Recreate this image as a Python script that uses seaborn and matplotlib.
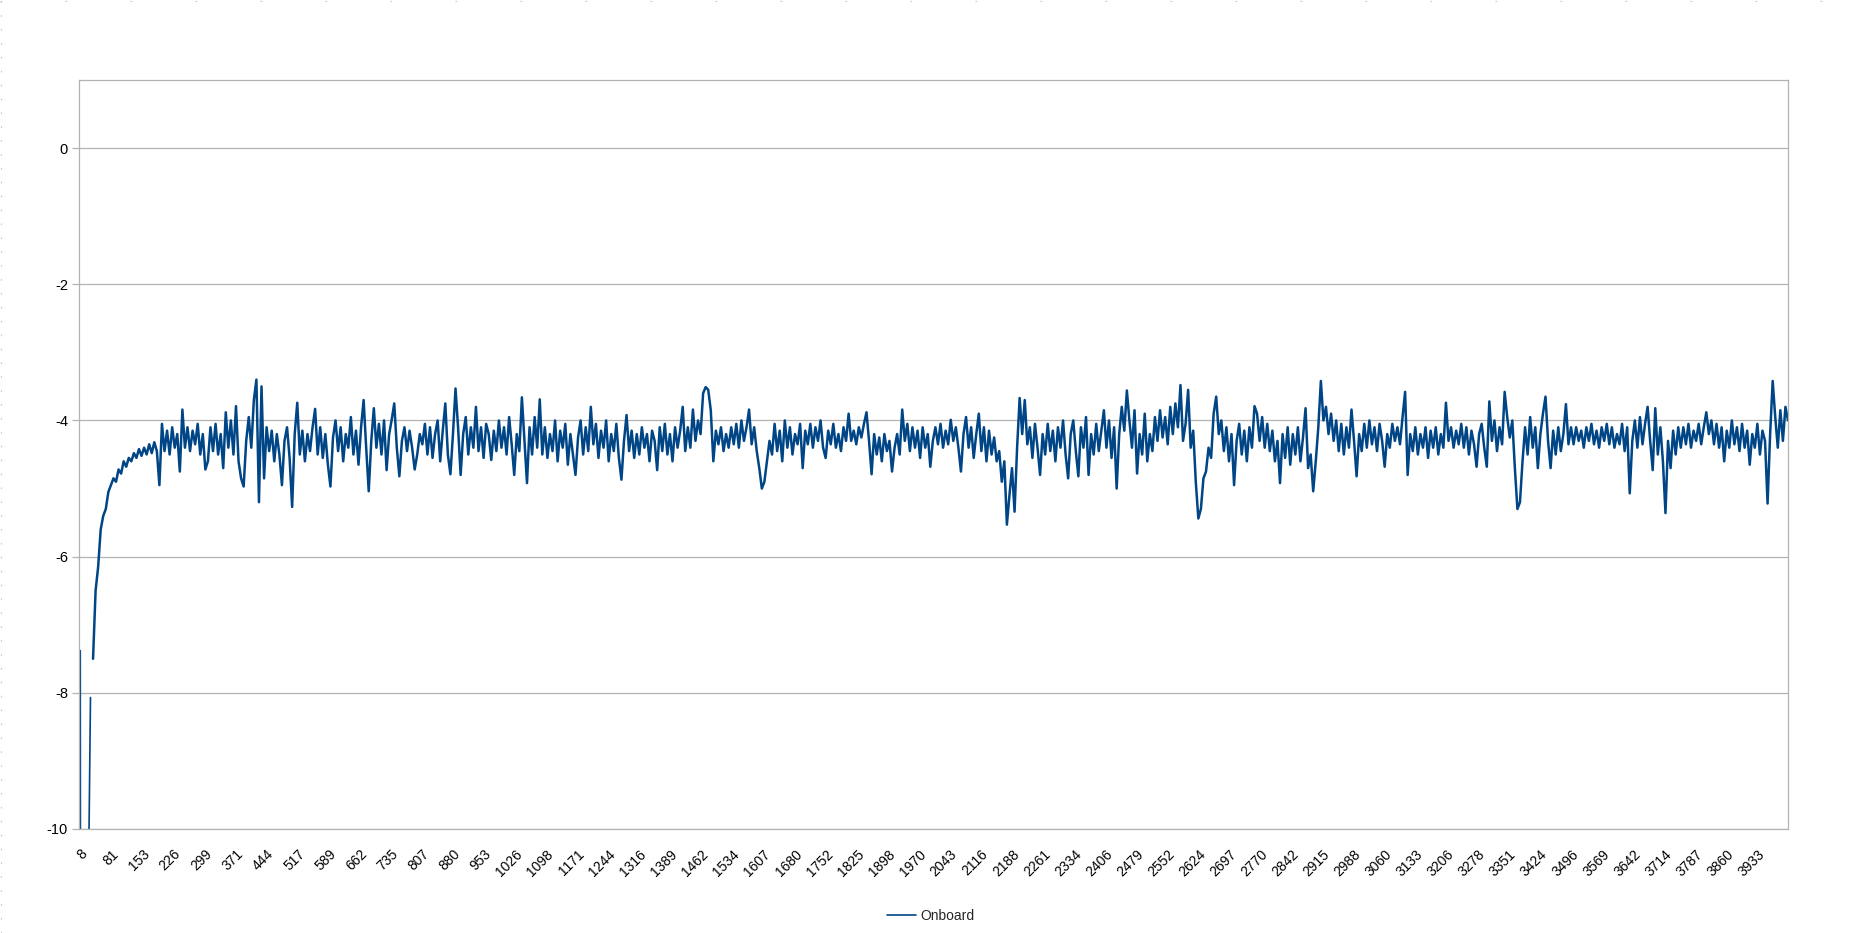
import numpy as np
import pandas as pd
import matplotlib
matplotlib.use("Agg")
import matplotlib.pyplot as plt
import matplotlib.transforms as mtransforms
from matplotlib.lines import Line2D
import seaborn as sns

# ---------------- data ----------------
series_name = "Onboard"
step = 6  # category units between stored samples

# first segment (before the small gap near the start)
start_vals = [-7.38, -60, -60, -11.5, -8.07]

# main segment
main_vals = [
    -7.5, -6.5, -6.15, -5.6, -5.4,
    -5.3, -5.05, -4.95, -4.85, -4.9, -4.72, -4.78, -4.6, -4.68, -4.55,
    -4.6, -4.48, -4.55, -4.42, -4.52, -4.4, -4.5, -4.35, -4.48, -4.32,
    -4.45, -4.95, -4.05, -4.45, -4.15, -4.5, -4.1, -4.4, -4.2, -4.75,
    -3.84, -4.4, -4.1, -4.45, -4.15, -4.35, -4.05, -4.5, -4.2, -4.72,
    -4.6, -4.1, -4.45, -4.05, -4.5, -4.2, -4.7, -3.88, -4.4, -4.0,
    -4.5, -3.79, -4.6, -4.85, -4.97, -4.3, -3.95, -4.4, -3.7, -3.4,
    -5.2, -3.5, -4.85, -4.1, -4.45, -4.15, -4.6, -4.2, -4.5, -4.95,
    -4.3, -4.1, -4.55, -5.27, -4.2, -3.74, -4.5, -4.15, -4.6, -4.2,
    -4.45, -4.1, -3.83, -4.5, -4.1, -4.55, -4.2, -4.65, -4.97, -4.25,
    -4.0, -4.45, -4.1, -4.6, -4.2, -4.4, -3.95, -4.5, -4.15, -4.65,
    -4.1, -3.7, -4.4, -5.04, -4.3, -3.82, -4.4, -4.05, -4.5, -4.0,
    -4.73, -4.2, -3.99, -3.75, -4.4, -4.82, -4.3, -4.1, -4.45, -4.15,
    -4.4, -4.72, -4.5, -4.2, -4.35, -4.05, -4.5, -4.1, -4.55, -4.2,
    -4.0, -4.6, -4.15, -3.75, -4.5, -4.79, -4.2, -3.53, -4.1, -4.8,
    -4.2, -3.95, -4.5, -4.1, -4.4, -3.8, -4.45, -4.1, -4.55, -4.05,
    -4.2, -4.58, -4.15, -4.45, -4.0, -4.4, -4.1, -4.5, -3.95, -4.35,
    -4.8, -4.2, -4.45, -3.66, -4.3, -4.92, -4.1, -4.5, -3.95, -4.4,
    -3.69, -4.5, -4.1, -4.55, -4.2, -4.45, -4.0, -4.6, -4.15, -4.4,
    -4.05, -4.65, -4.2, -4.5, -4.8, -4.25, -4.0, -4.5, -4.1, -4.45,
    -3.8, -4.35, -4.05, -4.55, -4.15, -4.4, -4.0, -4.6, -4.2, -4.45,
    -4.05, -4.55, -4.87, -4.3, -3.92, -4.45, -4.15, -4.55, -4.2, -4.5,
    -4.1, -4.4, -4.2, -4.6, -4.15, -4.3, -4.73, -4.1, -4.45, -4.05,
    -4.5, -4.2, -4.6, -4.1, -4.4, -4.15, -3.8, -4.45, -4.1, -4.4,
    -3.84, -4.3, -4.0, -4.2, -3.6, -3.51, -3.55, -3.85, -4.6, -4.15,
    -4.35, -4.1, -4.45, -4.2, -4.4, -4.1, -4.35, -4.05, -4.4, -4.0,
    -4.3, -4.1, -3.84, -4.35, -4.1, -4.45, -4.7, -5.0, -4.9, -4.6,
    -4.3, -4.5, -4.05, -4.45, -4.15, -4.6, -4.0, -4.4, -4.1, -4.5,
    -4.2, -4.35, -4.05, -4.7, -4.15, -4.35, -4.05, -4.4, -4.1, -4.3,
    -4.0, -4.4, -4.55, -4.15, -4.35, -4.05, -4.4, -4.2, -4.45, -4.1,
    -4.3, -3.9, -4.3, -4.15, -4.35, -4.1, -4.25, -4.05, -3.88, -4.3,
    -4.79, -4.2, -4.5, -4.25, -4.6, -4.2, -4.45, -4.3, -4.75, -4.4,
    -4.2, -4.5, -3.84, -4.3, -4.05, -4.45, -4.1, -4.4, -4.15, -4.55,
    -4.1, -4.4, -4.2, -4.68, -4.3, -4.1, -4.35, -4.05, -4.4, -4.15,
    -4.35, -3.99, -4.3, -4.1, -4.4, -4.75, -4.2, -3.95, -4.4, -4.1,
    -4.55, -4.2, -3.9, -4.45, -4.1, -4.6, -4.15, -4.5, -4.25, -4.6,
    -4.45, -4.9, -4.6, -5.53, -5.1, -4.7, -5.34, -4.4, -3.67, -4.2,
    -3.7, -4.35, -4.1, -4.55, -4.05, -4.4, -4.8, -4.2, -4.5, -4.05,
    -4.45, -4.15, -4.6, -4.1, -4.4, -4.0, -4.5, -4.85, -4.2, -4.0,
    -4.45, -4.82, -4.1, -4.4, -3.95, -4.8, -4.2, -4.5, -4.05, -4.45,
    -4.15, -3.85, -4.4, -4.0, -4.55, -4.1, -5.0, -4.2, -3.8, -4.15,
    -3.56, -4.0, -4.4, -3.85, -4.78, -4.2, -4.5, -3.9, -4.6, -4.2,
    -4.45, -3.95, -4.3, -3.85, -4.25, -3.95, -4.35, -3.8, -4.2, -3.75,
    -4.1, -3.48, -4.3, -4.05, -3.55, -4.4, -4.15, -4.9, -5.44, -5.3,
    -4.85, -4.75, -4.4, -4.55, -3.9, -3.65, -4.2, -4.0, -4.45, -4.1,
    -4.6, -4.2, -4.95, -4.3, -4.05, -4.5, -4.15, -4.6, -4.1, -4.4,
    -3.79, -3.9, -4.3, -3.95, -4.4, -4.05, -4.45, -4.15, -4.6, -4.3,
    -4.92, -4.2, -4.55, -4.1, -4.65, -4.2, -4.5, -4.1, -4.6, -4.25,
    -3.82, -4.7, -4.5, -5.04, -4.6, -4.1, -3.42, -4.0, -3.8, -4.2,
    -3.9, -4.3, -4.0, -4.45, -4.05, -4.5, -4.1, -4.4, -3.84, -4.3,
    -4.82, -4.2, -4.45, -4.05, -4.4, -4.0, -4.35, -4.1, -4.45, -4.05,
    -4.3, -4.68, -4.2, -4.4, -4.05, -4.3, -4.1, -4.35, -3.95, -3.58,
    -4.8, -4.2, -4.45, -4.1, -4.5, -4.2, -4.4, -4.1, -4.55, -4.15,
    -4.4, -4.1, -4.5, -4.2, -4.4, -3.74, -4.3, -4.1, -4.4, -4.15,
    -4.35, -4.05, -4.4, -4.1, -4.5, -4.15, -4.35, -4.68, -4.2, -4.05,
    -4.4, -4.68, -3.72, -4.3, -4.0, -4.45, -4.1, -4.35, -3.58, -3.95,
    -4.25, -4.0, -4.7, -5.3, -5.2, -4.6, -4.1, -4.5, -3.95, -4.4,
    -4.1, -4.7, -4.2, -3.9, -3.65, -4.3, -4.7, -4.15, -4.5, -4.1,
    -4.45, -4.2, -3.76, -4.35, -4.1, -4.35, -4.1, -4.3, -4.15, -4.4,
    -4.1, -4.3, -4.05, -4.35, -4.15, -4.4, -4.1, -4.3, -4.05, -4.35,
    -4.1, -4.4, -4.2, -4.35, -4.05, -4.45, -4.1, -5.07, -4.3, -4.0,
    -4.4, -3.95, -4.35, -4.05, -3.8, -4.3, -4.73, -3.82, -4.5, -4.1,
    -4.6, -5.36, -4.3, -4.7, -4.15, -4.5, -4.1, -4.4, -4.1, -4.35,
    -4.05, -4.4, -4.15, -4.3, -4.05, -4.35, -4.1, -3.88, -4.2, -4.0,
    -4.35, -4.05, -4.4, -4.1, -4.6, -4.15, -4.4, -4.0, -4.35, -4.1,
    -4.45, -4.05, -4.4, -4.15, -4.65, -4.2, -4.4, -4.05, -4.5, -4.15,
    -4.3, -5.22, -4.2, -3.42, -3.95, -4.4, -3.85, -4.3, -3.8, -4.0,
]

tick_labels = ["8", "81", "153", "226", "299", "371", "444", "517", "589", "662",
               "735", "807", "880", "953", "1026", "1098", "1171", "1244", "1316",
               "1389", "1462", "1534", "1607", "1680", "1752", "1825", "1898",
               "1970", "2043", "2116", "2188", "2261", "2334", "2406", "2479",
               "2552", "2624", "2697", "2770", "2842", "2915", "2988", "3060",
               "3133", "3206", "3278", "3351", "3424", "3496", "3569", "3642",
               "3714", "3787", "3860", "3933"]
label_every = 73
y_ticks = [-10, -8, -6, -4, -2, 0]

# ---------------- styling ----------------
LINE = "#004586"
GRID = "#b3b3b3"

sns.set_theme(style="white")
plt.rcParams["font.family"] = ["Liberation Sans", "DejaVu Sans"]

W, H = 1861, 933
fig = plt.figure(figsize=(W / 100, H / 100), dpi=100)
ax = fig.add_axes([79 / W, 1 - 829 / H, (1788 - 79) / W, (829 - 80) / H])

n_start = len(start_vals)
df1 = pd.DataFrame({"x": np.arange(n_start) * step, "y": start_vals})
df2 = pd.DataFrame({"x": (np.arange(len(main_vals)) + n_start) * step, "y": main_vals})

sns.lineplot(data=df1, x="x", y="y", ax=ax, color=LINE, lw=1.2,
             estimator=None, legend=False)
sns.lineplot(data=df2, x="x", y="y", ax=ax, color=LINE, lw=1.8,
             estimator=None, label=series_name)

x_end = (n_start + len(main_vals) - 1) * step
ax.set_xlim(-3, x_end)
ax.set_ylim(-10, 1)
ax.set_xlabel("")
ax.set_ylabel("")

ax.set_yticks(y_ticks)
ax.set_yticklabels([str(v) for v in y_ticks])
ax.yaxis.grid(True, color=GRID, lw=0.9)
ax.xaxis.grid(False)

ax.set_xticks([j * label_every for j in range(len(tick_labels))])
ax.set_xticklabels(tick_labels, rotation=45, ha="right", va="top",
                   rotation_mode="anchor", fontsize=10)
offset = mtransforms.ScaledTranslation(6 / 100, 0, fig.dpi_scale_trans)
for lab in ax.get_xticklabels():
    lab.set_transform(lab.get_transform() + offset)
ax.tick_params(axis="x", length=0, pad=13, colors="black")
ax.tick_params(axis="y", length=5, width=0.9, color=GRID, labelsize=10.5,
               labelcolor="black", pad=3, left=True)

for sp in ax.spines.values():
    sp.set_color(GRID)
    sp.set_linewidth(0.9)

# legend at the bottom centre
handles, labels = ax.get_legend_handles_labels()
ax.get_legend().remove()
leg = fig.legend(handles, labels, loc="center", bbox_to_anchor=(0.5, 1 - 916 / H),
                 frameon=False, fontsize=10, handlelength=2.1, handletextpad=0.3)
for ln in leg.get_lines():
    ln.set_linewidth(1.2)

# faint dashed page border at left and top
fig.add_artist(Line2D([0.6 / W, 0.6 / W], [0, 1], transform=fig.transFigure,
                      color="#c8c8c8", lw=0.8, ls=(0, (1.5, 11))))
fig.add_artist(Line2D([0, 1], [1 - 0.6 / H, 1 - 0.6 / H], transform=fig.transFigure,
                      color="#c8c8c8", lw=0.8, ls=(0, (1.5, 57))))

fig.savefig("out.png", dpi=100)
